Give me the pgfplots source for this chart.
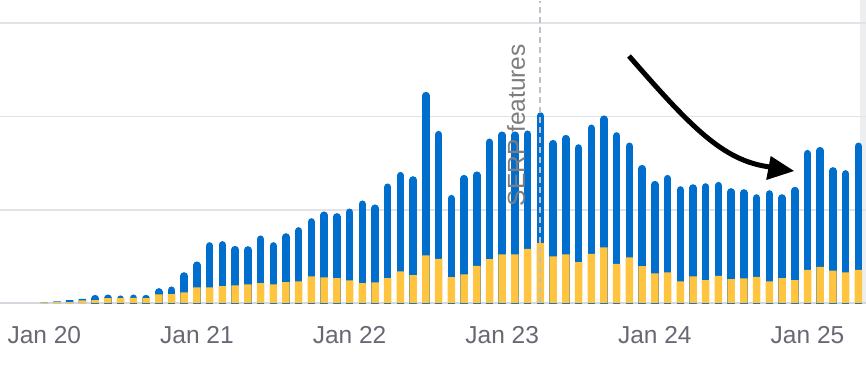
\documentclass[border=0pt]{standalone}
\usepackage{pgfplots}
\pgfplotsset{compat=1.18}
\usepackage{pgfplotstable}
\usepackage{fontspec}
\setmainfont{Liberation Sans}
\definecolor{bblue}{RGB}{0,110,204}
\definecolor{byellow}{RGB}{255,196,64}
\definecolor{gridc}{RGB}{226,226,232}
\definecolor{basec}{RGB}{214,214,222}
\definecolor{labc}{RGB}{104,104,116}
\definecolor{serpc}{RGB}{125,125,128}
\definecolor{dashc}{RGB}{192,192,198}
\definecolor{stripc}{RGB}{236,238,240}
\pgfplotstableread{
idx yellow total
0 0.75 0.75
1 1.1 1.8
2 1.1 3.2
3 2.9 4.6
4 3.2 8.9
5 5.4 9.3
6 5.4 8.3
7 5.7 9.3
8 5.4 8.9
9 9.3 16.1
10 9.6 17.9
11 11.5 33.2
12 16.8 44.7
13 16.8 65.4
14 18.2 66.5
15 19.0 61.4
16 20.0 61.1
17 21.4 72.6
18 20.0 65.4
19 22.5 75.0
20 23.3 81.5
21 28.6 91.1
22 27.5 98.3
23 26.8 96.5
24 24.3 101.5
25 21.4 110.1
26 22.2 105.8
27 26.8 128.3
28 34.0 140.7
29 30.0 136.1
30 51.1 226.5
31 47.5 184.7
32 27.9 116.1
33 30.8 137.5
34 40.0 141.2
35 47.2 176.5
36 52.2 184.0
37 52.2 184.0
38 58.2 185.1
39 64.3 204.7
40 50.1 175.0
41 52.2 180.4
42 43.9 170.4
43 52.7 191.5
44 59.7 201.2
45 42.1 183.3
46 49.0 172.2
47 39.7 148.2
48 31.8 131.1
49 32.9 137.5
50 23.3 125.4
51 28.6 127.5
52 24.7 128.6
53 29.3 130.0
54 25.7 123.3
55 26.5 122.2
56 28.2 116.8
57 23.3 121.1
58 26.8 116.8
59 24.7 124.7
60 35.7 164.3
61 38.9 167.5
62 35.0 145.8
63 32.9 142.6
64 35.7 172.2
}\datatable
\begin{document}
\begin{tikzpicture}[x=1bp,y=1bp]
\path[use as bounding box] (0,0) rectangle (866,372);
\fill[stripc] (860,70.3) rectangle (866,372);
\begin{axis}[
  at={(0,73.8)}, anchor=south west,
  scale only axis, width=866bp, height=301.7bp,
  xmin=-3.483, xmax=64.6, ymin=0, ymax=323.4,
  axis line style={draw=none},
  tick style={draw=none},
  ytick={100,200,300}, yticklabels={},
  ymajorgrids, grid style={gridc, line width=1.6bp},
  extra y ticks={0}, extra y tick labels={},
  extra y tick style={major grid style={basec, line width=2bp}},
  xtick={0,12,24,36,48,60},
  xticklabels={Jan 20,Jan 21,Jan 22,Jan 23,Jan 24,Jan 25},
  xticklabel style={font=\fontsize{24.5bp}{30bp}\selectfont, text=labc, anchor=base, yshift=-40.3bp},
  clip=true,
]
% tiny bars (square)
\addplot[ybar, bar width=7.5bp, bar shift=0pt, fill=bblue, draw=none, restrict x to domain=0:3] table[x=idx,y=total]{\datatable};
% bars with rounded tops: comb with round caps, top of cap at the total
\addplot[ycomb, no marks, bblue, line width=7.5bp, line cap=round, restrict x to domain=4:64] table[x=idx,y expr=\thisrow{total}-4.02]{\datatable};
\addplot[ybar, bar width=7.5bp, bar shift=0pt, fill=byellow, draw=none] table[x=idx,y=yellow]{\datatable};
\draw[dashc, line width=2bp, dash pattern=on 6bp off 4bp] (axis cs:39,0) -- (axis cs:39,323.4);
\node[font=\fontsize{24.5bp}{30bp}\selectfont, text=serpc, rotate=90, anchor=base west, inner sep=0pt] at (axis cs:37.79,103.6) {SERP features};
\end{axis}
\draw[black, line width=5bp] (629,316) .. controls (691,245) and (723,211) .. (770,205);
\fill[black] (794,201) -- (770.7,216) -- (766.2,192) -- cycle;
\end{tikzpicture}
\end{document}
